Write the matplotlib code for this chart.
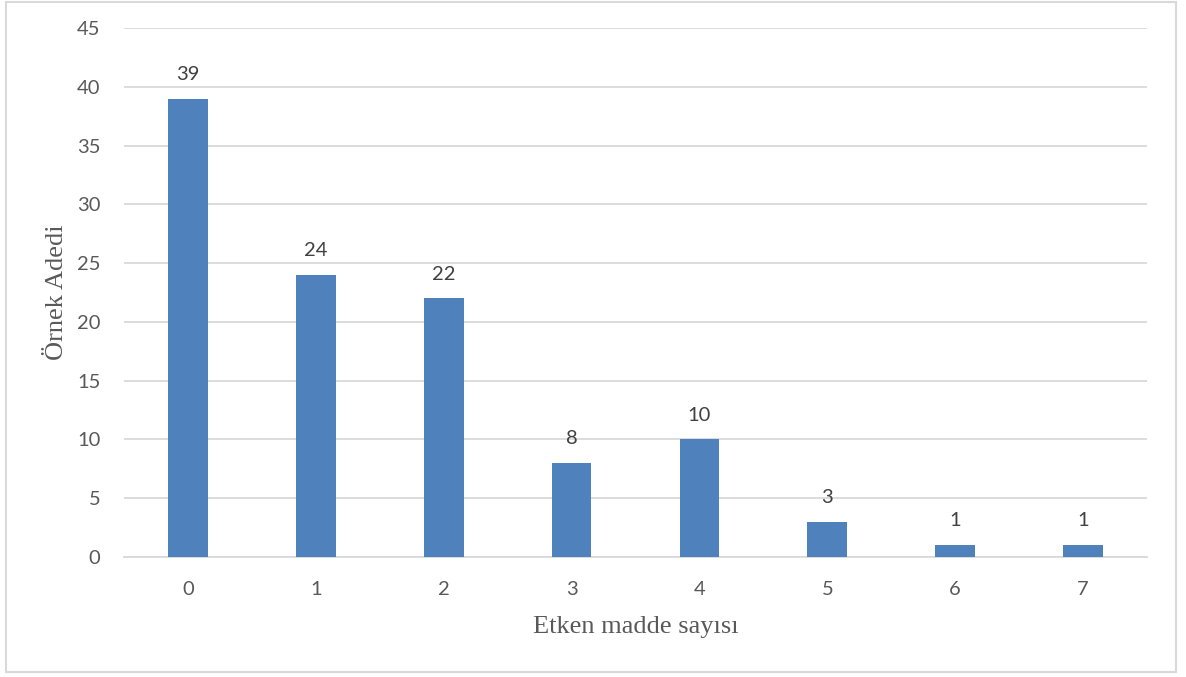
import matplotlib.pyplot as plt
from matplotlib.patches import Rectangle

# data
categories = ["0", "1", "2", "3", "4", "5", "6", "7"]
counts = [39, 24, 22, 8, 10, 3, 1, 1]
y_ticks = [0, 5, 10, 15, 20, 25, 30, 35, 40, 45]

bar_color = "#4F81BD"
grid_color = "#D9D9D9"
text_color = "#595959"
sans = ["Lato", "DejaVu Sans"]
serif = ["Liberation Serif", "DejaVu Serif"]

fig = plt.figure(figsize=(11.86, 6.77), dpi=100)
ax = fig.add_axes([124 / 1186, 1 - 557 / 677, 1023 / 1186, 529 / 677])

x = list(range(len(categories)))
ax.bar(x, counts, width=0.31, color=bar_color, zorder=3)

# value labels
for xi, v in zip(x, counts):
    ax.annotate(str(v), (xi, v), xytext=(0, 17.5), textcoords="offset points",
                ha="center", va="center", fontsize=14.5, color="#404040", family=sans)

ax.set_xlim(-0.5, len(categories) - 0.5)
ax.set_ylim(0, 45)
ax.set_yticks(y_ticks)
ax.set_xticks(x)
ax.set_xticklabels(categories)
ax.yaxis.grid(True, color=grid_color, linewidth=1.3, zorder=0)
ax.tick_params(length=0, labelsize=14.5, colors=text_color, pad=17)
for lbl in ax.get_xticklabels() + ax.get_yticklabels():
    lbl.set_family(sans)
for s in ["top", "right", "left"]:
    ax.spines[s].set_visible(False)
ax.spines["bottom"].set_color(grid_color)
ax.spines["bottom"].set_linewidth(1.3)

# axis titles
fig.text(636 / 1186, 1 - 627 / 677, "Etken madde sayısı", ha="center", va="center",
         fontsize=19, color=text_color, family=serif)
fig.text(57 / 1186, 1 - 292 / 677, "Örnek Adedi", ha="center", va="center",
         rotation=90, fontsize=19, color=text_color, family=serif)

# chart border
fig.patches.append(Rectangle((6 / 1186, 1 - 672 / 677), 1170 / 1186, 670 / 677,
                             transform=fig.transFigure, fill=False,
                             edgecolor=grid_color, linewidth=1.5))

plt.savefig("out.png")
